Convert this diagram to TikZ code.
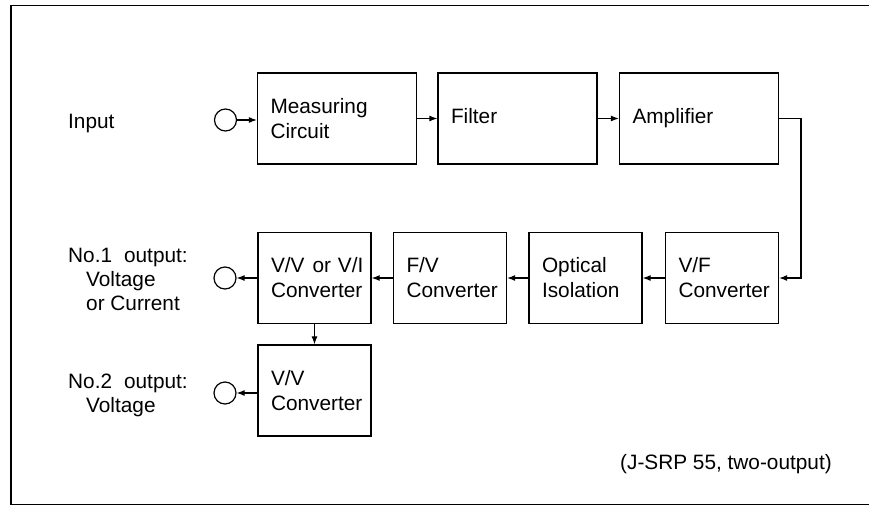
\documentclass[tikz,border=0pt]{standalone}
\usepackage{fontspec}
\setmainfont{Liberation Sans}
\usetikzlibrary{arrows.meta}
\begin{document}
\begin{tikzpicture}[x=1pt,y=-1pt,
  every node/.style={font=\fontsize{20.8}{25}\selectfont},
  box/.style={draw,line width=1.3pt,inner ysep=0pt,inner xsep=13pt,align=left},
  bigbox/.style={box,minimum width=159pt,minimum height=91pt,text width=133pt},
  smallbox/.style={box,minimum width=113pt,minimum height=91pt,text width=87pt},
  port/.style={draw,circle,line width=1.2pt,minimum size=22pt,inner sep=0pt},
  lbl/.style={anchor=base west,inner sep=0pt},
  arr/.style={line width=1.2pt,-{Latex[length=8pt,width=6pt]}}]
\useasboundingbox (0,0) rectangle (869,506);
\draw[line width=1.4pt] (869,5.5) -- (11,5.5) -- (11,504.5) -- (869,504.5);

% top row
\node[bigbox] (mc) at (337,118.5) {Measuring\\Circuit};
\node[bigbox] (fl) at (517.5,118.5) {Filter\vphantom{Ap}};
\node[bigbox] (am) at (699,118.5) {Amplifier\vphantom{Ap}};
% middle row
\node[smallbox] (vf) at (722,278) {V/F\\Converter};
\node[smallbox] (oi) at (585.5,278) {Optical\\Isolation};
\node[smallbox] (fv) at (450,278) {F/V\\Converter};
\node[smallbox] (vvi) at (314.5,278) {\mbox{V/V\hspace{8pt}or V/I}\\Converter};
% bottom
\node[smallbox] (vv) at (314.5,390.5) {V/V\\Converter};

% ports
\node[port] (pin) at (225.5,120) {};
\node[port] (po1) at (225,278) {};
\node[port] (po2) at (225,393) {};

% labels
\node[lbl] (tin) at (68,128) {Input};
\node[lbl] (t1a) at (68,262) {No.1\hspace{12pt}output:};
\node[lbl] (t1b) at (86,286) {Voltage};
\node[lbl] (t1c) at (86,310) {or Current};
\node[lbl] (t2a) at (68,388) {No.2\hspace{12pt}output:};
\node[lbl] (t2b) at (86,412) {Voltage};
\node[lbl] (note) at (620,469) {(J-SRP 55, two-output)};

% connectors
\draw[arr] (pin) -- (mc.west |- pin);
\draw[arr] (mc) -- (fl);
\draw[arr] (fl) -- (am);
\coordinate (bend) at (801,118.5);
\draw[arr] (am.east) -- (bend) |- (vf.east);
\draw[arr] (vf) -- (oi);
\draw[arr] (oi) -- (fv);
\draw[arr] (fv) -- (vvi);
\draw[arr] (vvi) -- (po1);
\draw[arr] (vvi) -- (vv);
\draw[arr] (vv.west |- po2) -- (po2);
\end{tikzpicture}
\end{document}
